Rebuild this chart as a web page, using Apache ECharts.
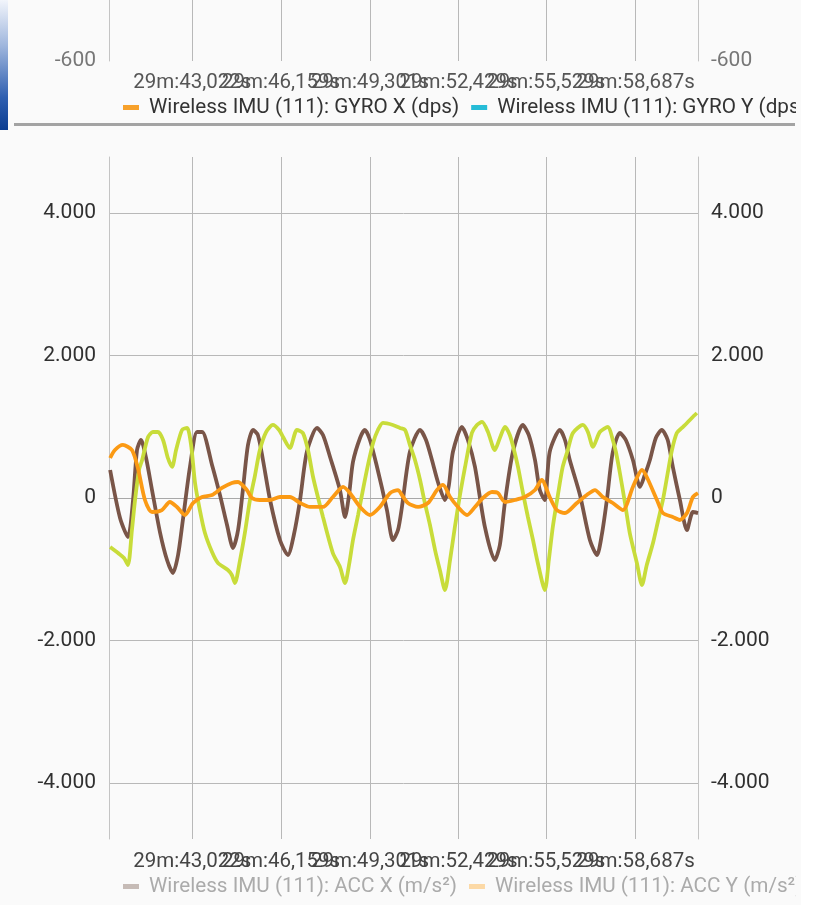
<!DOCTYPE html>
<html>
<head>
<meta charset="utf-8">
<script src="https://cdn.jsdelivr.net/npm/echarts@6/dist/echarts.min.js"></script>
<style>
  html, body { margin: 0; padding: 0; background: #ffffff; }
  #app { position: absolute; left: 0; top: 0; width: 801px; height: 905px; background: #fafafa; overflow: hidden; }
  #chart { position: absolute; left: 0; top: 0; width: 796px; height: 905px; }
  #strip { position: absolute; left: 0; top: 0; width: 8px; height: 130px;
           background: linear-gradient(to bottom, #f2f5fb 0%, #9fb6dd 35%, #2f5fb0 75%, #0b3d91 100%); }
  #divider { position: absolute; left: 14px; top: 123px; width: 781px; height: 3px; background: #a3a3a3; }
</style>
</head>
<body>
<div id="app">
  <div id="chart"></div>
  <div id="strip"></div>
  <div id="divider"></div>
</div>
<script>
// ---------- data ----------
const xMin = 40.08;
const xMax = 60.89;
const tickTimes = [43.022, 46.159, 49.301, 52.429, 55.529, 58.687];
const tickLabels = ['29m:43,022s', '29m:46,159s', '29m:49,301s', '29m:52,429s', '29m:55,529s', '29m:58,687s'];
const yTicksTop = [-600];
const yTicksBottom = [-4000, -2000, 0, 2000, 4000];

const gyroNames = ['Wireless IMU (111): GYRO X (dps)', 'Wireless IMU (111): GYRO Y (dps)'];
const accNames = ['Wireless IMU (111): ACC X (m/s²)', 'Wireless IMU (111): ACC Y (m/s²)', 'Wireless IMU (111): ACC Z (m/s²)'];

// ACC X (brown)
const accXTime = [40.12,40.47,40.75,40.93,41.07,41.21,41.39,41.60,41.88,42.13,42.34,42.52,42.69,42.94,43.19,43.37,43.72,44.00,44.25,44.46,44.64,44.81,44.99,45.17,45.34,45.52,45.77,46.12,46.40,46.61,46.83,47.07,47.43,47.64,47.89,48.24,48.42,48.56,48.70,48.95,49.12,49.30,49.55,49.90,50.11,50.29,50.43,50.71,51.07,51.28,51.49,51.70,51.95,52.09,52.23,52.55,52.76,53.01,53.36,53.71,53.89,54.07,54.35,54.70,54.91,55.13,55.30,55.48,55.65,56.01,56.19,56.36,56.72,57.07,57.32,57.49,57.67,57.88,58.13,58.34,58.59,58.84,59.01,59.19,59.40,59.61,59.82,60.00,60.25,60.50,60.71,60.89];
const accXValues = [393,-281,-548,-28,674,815,562,112,-478,-871,-1054,-801,-309,436,927,927,464,42,-379,-702,-450,112,745,955,885,534,-28,-590,-801,-520,-28,646,984,885,576,112,-267,42,506,843,955,815,436,-169,-590,-450,-126,646,955,815,534,225,-28,183,646,998,815,436,-407,-871,-660,-56,646,1026,885,534,112,-28,646,955,815,534,42,-590,-801,-520,-28,646,913,815,534,155,323,534,843,955,815,436,-28,-450,-197,-211];

// ACC Y (orange)
const accYTime = [40.12,40.29,40.57,40.89,41.10,41.35,41.60,41.95,42.23,42.48,42.76,43.05,43.37,43.72,44.07,44.42,44.64,44.95,45.13,45.41,45.77,46.12,46.47,46.83,47.18,47.64,47.99,48.35,48.59,48.95,49.30,49.65,50.01,50.29,50.43,50.64,51.00,51.35,51.67,51.88,52.13,52.41,52.73,53.01,53.29,53.61,53.82,54.07,54.42,54.77,55.13,55.37,55.65,55.90,56.19,56.61,56.96,57.25,57.53,57.88,58.24,58.59,58.91,59.08,59.44,59.65,60.00,60.25,60.50,60.71,60.89];
const accYValues = [562,674,745,674,422,-28,-197,-169,-56,-126,-239,-70,14,42,141,211,225,112,0,-28,-28,14,14,-70,-126,-126,14,155,70,-126,-239,-126,70,112,42,-70,-126,-70,112,183,14,-126,-239,-126,0,84,70,-56,-28,14,112,253,14,-169,-211,-70,42,112,14,-70,-169,155,393,295,-28,-211,-267,-309,-211,14,70];

// ACC Z (lime)
const accZTime = [40.12,40.40,40.61,40.75,40.89,41.00,41.14,41.25,41.46,41.63,41.81,41.99,42.16,42.31,42.45,42.66,42.84,42.98,43.12,43.29,43.47,43.72,43.93,44.28,44.42,44.53,44.71,44.88,45.06,45.24,45.41,45.63,45.87,46.09,46.23,46.47,46.72,46.93,47.11,47.29,47.46,47.64,47.99,48.24,48.42,48.56,48.70,48.88,49.05,49.23,49.41,49.58,49.76,50.11,50.36,50.54,50.71,50.89,51.07,51.24,51.42,51.60,51.77,51.95,52.13,52.30,52.48,52.66,52.90,53.08,53.26,53.47,53.71,53.89,54.07,54.24,54.39,54.53,54.70,54.88,55.06,55.23,55.48,55.62,55.76,55.94,56.11,56.29,56.47,56.82,57.00,57.18,57.42,57.71,57.88,57.99,58.13,58.31,58.48,58.73,58.91,59.08,59.30,59.47,59.65,59.82,59.97,60.14,60.32,60.50,60.67,60.85];
const accZValues = [-688,-773,-843,-941,-450,-28,393,534,857,927,927,815,562,436,674,955,984,745,211,-169,-492,-759,-913,-1012,-1082,-1194,-871,-492,-28,323,674,927,1026,955,857,703,955,913,674,295,14,-267,-773,-969,-1194,-941,-590,-239,112,464,773,955,1054,1026,984,955,745,534,253,-70,-379,-731,-1012,-1293,-871,-407,42,436,913,1026,1068,927,674,843,998,885,674,436,84,-267,-590,-913,-1293,-871,-407,42,436,674,913,1026,927,717,927,998,815,646,351,-70,-492,-913,-1222,-941,-632,-337,-28,351,674,913,984,1054,1124,1194];

// ---------- helpers ----------
function zip(t, v) { return t.map((x, i) => [x, v[i]]); }
function fmtY(v) {
  if (v === 0) return '0';
  const s = String(Math.abs(v)).replace(/\B(?=(\d{3})+(?!\d))/g, '.');
  return (v < 0 ? '-' : '') + s;
}
function fmtX(v) {
  let best = 0;
  tickTimes.forEach((t, i) => { if (Math.abs(t - v) < Math.abs(tickTimes[best] - v)) best = i; });
  return tickLabels[best];
}
const evenTicks = tickTimes.filter((t, i) => i % 2 === 0);
const oddTicks = tickTimes.filter((t, i) => i % 2 === 1);

const FONT = 'Roboto';
const gridColor = '#b8b8b8';

// main x axis: axis line, grid lines, and every other label
function xAxisMain(gridIndex, labelColor, lineColor, margin) {
  return {
    type: 'value', gridIndex, min: xMin, max: xMax,
    axisLine: { show: true, lineStyle: { color: lineColor, width: 1 } },
    axisTick: { show: false, customValues: tickTimes },
    axisLabel: { customValues: evenTicks, formatter: fmtX, color: labelColor, fontSize: 20.5, fontFamily: FONT, margin,
                 hideOverlap: false, showMinLabel: true, showMaxLabel: true },
    splitLine: { show: true, lineStyle: { color: gridColor, width: 1 } }
  };
}
// companion x axis carrying the remaining labels
function xAxisLabels(gridIndex, labelColor, margin) {
  return {
    type: 'value', gridIndex, min: xMin, max: xMax, position: 'bottom', offset: 0,
    axisLine: { show: false }, axisTick: { show: false, customValues: oddTicks },
    axisLabel: { customValues: oddTicks, formatter: fmtX, color: labelColor, fontSize: 20.5, fontFamily: FONT, margin,
                 hideOverlap: false, showMinLabel: true, showMaxLabel: true },
    splitLine: { show: false }
  };
}
function yAxisFor(gridIndex, position, min, max, ticks, labelColor, split) {
  return {
    type: 'value', gridIndex, position, min, max,
    axisLine: { show: true, onZero: false, lineStyle: { color: '#c4c4c4', width: 1 } },
    axisTick: { show: false, customValues: ticks },
    axisLabel: { customValues: ticks, formatter: fmtY, color: labelColor, fontSize: 21, fontFamily: FONT, margin: 13,
                 showMinLabel: true, showMaxLabel: true },
    splitLine: { show: split, lineStyle: { color: gridColor, width: 1 } }
  };
}

const chart = echarts.init(document.getElementById('chart'), null, { renderer: 'canvas' });

const lineBase = { type: 'line', showSymbol: false, smooth: 0.25, animation: false };

chart.setOption({
  animation: false,
  backgroundColor: 'transparent',
  textStyle: { fontFamily: FONT },
  grid: [
    { left: 109, right: 98, top: -300, height: 361, outerBoundsMode: 'none', containLabel: false },
    { left: 109, right: 98, top: 157, height: 682, outerBoundsMode: 'none', containLabel: false }
  ],
  xAxis: [
    xAxisMain(0, '#555555', '#cfcfcf', 11),
    xAxisMain(1, '#444444', '#a8a8a8', 12),
    xAxisLabels(0, '#555555', 11),
    xAxisLabels(1, '#444444', 12)
  ],
  yAxis: [
    yAxisFor(0, 'left', -600, 1200, yTicksTop, '#777777', false),
    yAxisFor(0, 'right', -600, 1200, yTicksTop, '#777777', false),
    yAxisFor(1, 'left', -4790, 4790, yTicksBottom, '#303030', true),
    yAxisFor(1, 'right', -4790, 4790, yTicksBottom, '#303030', false)
  ],
  legend: [
    {
      left: 118, top: 92, width: 1600, orient: 'horizontal', itemWidth: 16, itemHeight: 5, itemGap: 12, icon: 'rect',
      textStyle: { fontSize: 20.7, fontFamily: FONT, color: '#333333', padding: [0, 0, 0, 5] },
      data: [
        { name: gyroNames[0], itemStyle: { color: '#f7a12b' } },
        { name: gyroNames[1], itemStyle: { color: '#26bcd7' } }
      ]
    },
    {
      left: 118, top: 871, width: 1600, orient: 'horizontal', itemWidth: 16, itemHeight: 5, itemGap: 12, icon: 'rect',
      textStyle: { fontSize: 20.7, fontFamily: FONT, color: '#ababab', padding: [0, 0, 0, 5] },
      selectedMode: false,
      data: [
        { name: accNames[0], itemStyle: { color: '#c6bbb6' }, textStyle: { color: '#ababab' } },
        { name: accNames[1], itemStyle: { color: '#fcd9a6' }, textStyle: { color: '#ababab' } },
        { name: accNames[2], itemStyle: { color: '#e6eda6' }, textStyle: { color: '#ababab' } }
      ]
    }
  ],
  series: [
    Object.assign({}, lineBase, { name: gyroNames[0], xAxisIndex: 0, yAxisIndex: 0, data: [], itemStyle: { color: '#f7a12b' } }),
    Object.assign({}, lineBase, { name: gyroNames[1], xAxisIndex: 0, yAxisIndex: 0, data: [], itemStyle: { color: '#26bcd7' } }),
    Object.assign({}, lineBase, { name: accNames[0], xAxisIndex: 1, yAxisIndex: 2, data: zip(accXTime, accXValues),
      itemStyle: { color: '#795548' }, lineStyle: { color: '#795548', width: 3.8 }, z: 2 }),
    Object.assign({}, lineBase, { name: accNames[2], xAxisIndex: 1, yAxisIndex: 2, data: zip(accZTime, accZValues),
      itemStyle: { color: '#c8dc3a' }, lineStyle: { color: '#c8dc3a', width: 3.8 }, z: 3 }),
    Object.assign({}, lineBase, { name: accNames[1], xAxisIndex: 1, yAxisIndex: 2, data: zip(accYTime, accYValues),
      itemStyle: { color: '#fb9a14' }, lineStyle: { color: '#fb9a14', width: 3.8 }, z: 4 })
  ]
});
</script>
</body>
</html>
